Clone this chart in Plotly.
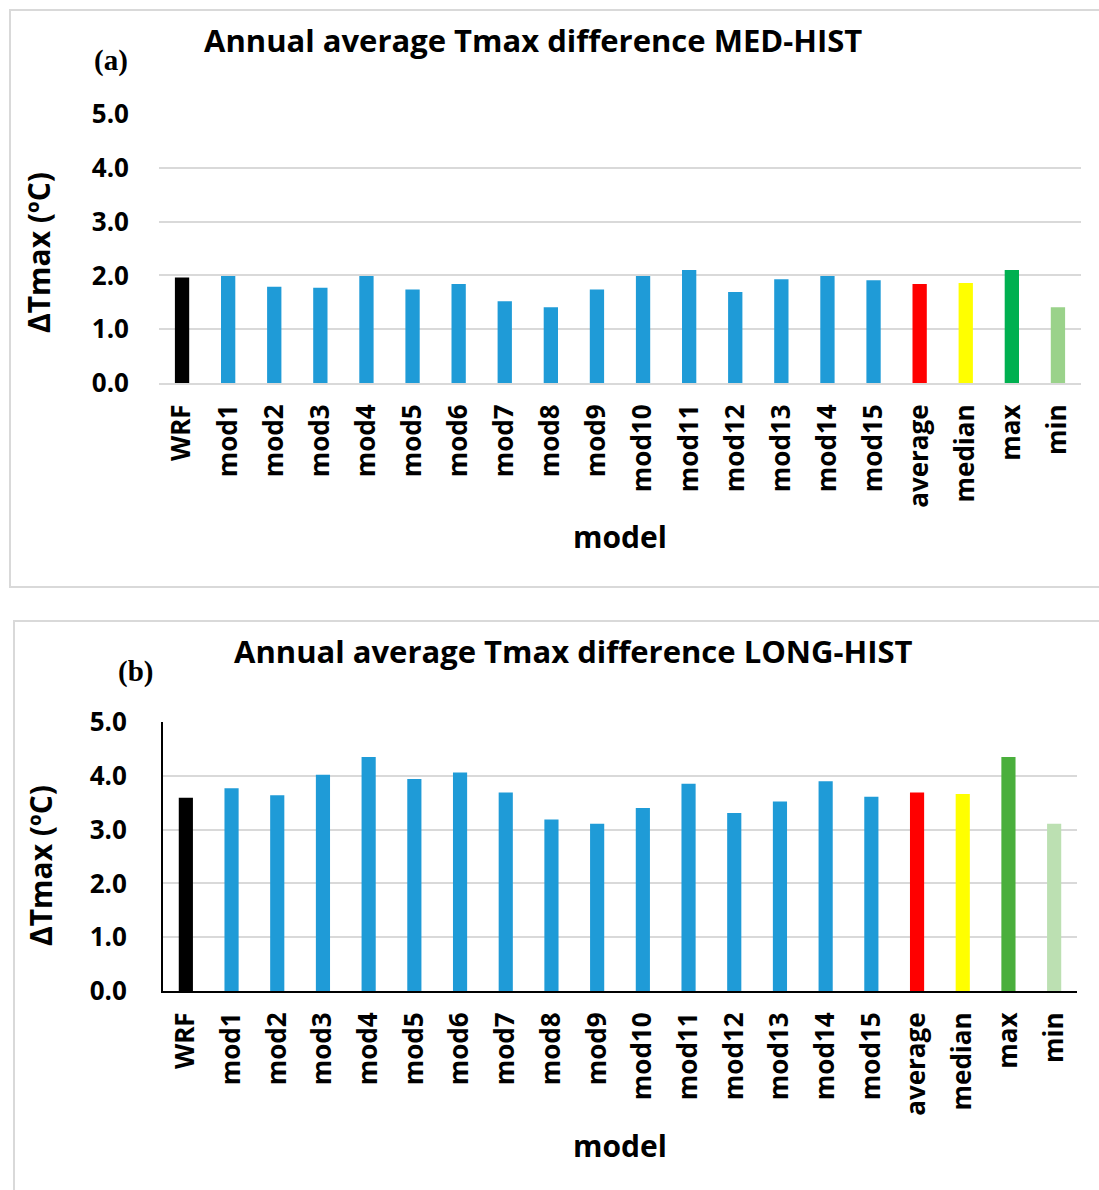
import plotly.graph_objects as go

W, H = 1099, 1190

categories = ["WRF", "mod1", "mod2", "mod3", "mod4", "mod5", "mod6", "mod7", "mod8", "mod9",
              "mod10", "mod11", "mod12", "mod13", "mod14", "mod15", "average", "median", "max", "min"]

med_hist = [1.96, 1.99, 1.79, 1.77, 1.99, 1.74, 1.84, 1.52, 1.41, 1.74,
            1.99, 2.10, 1.69, 1.93, 1.99, 1.91, 1.84, 1.86, 2.10, 1.41]

long_hist = [3.59, 3.77, 3.64, 4.02, 4.35, 3.94, 4.06, 3.69, 3.19, 3.11,
             3.40, 3.85, 3.31, 3.52, 3.90, 3.61, 3.69, 3.66, 4.35, 3.11]

y_ticks = [0, 1, 2, 3, 4, 5]
y_tick_labels = ["0.0", "1.0", "2.0", "3.0", "4.0", "5.0"]

BLUE = "#1F9BD7"
colors_a = ["#000000"] + [BLUE] * 15 + ["#FF0000", "#FFFF00", "#00B050", "#9AD28A"]
colors_b = ["#000000"] + [BLUE] * 15 + ["#FF0000", "#FFFF00", "#4AAF3C", "#BCE0B2"]

FONT = "'Open Sans', Lato, sans-serif"


def px(x):
    return x / W


def py(y):
    return 1 - y / H


fig = go.Figure()
fig.add_trace(go.Bar(x=categories, y=med_hist, marker=dict(color=colors_a, line=dict(width=0)),
                     xaxis="x", yaxis="y", showlegend=False))
fig.add_trace(go.Bar(x=categories, y=long_hist, marker=dict(color=colors_b, line=dict(width=0)),
                     xaxis="x2", yaxis="y2", showlegend=False))

tickfont = dict(family=FONT, size=26, color="#000000", weight="bold")

common_x = dict(type="category", tickangle=-90, tickfont=tickfont, showgrid=False,
                ticks="", ticklabelstandoff=9, fixedrange=True, automargin=False)
common_y = dict(range=[0, 5], tickvals=y_ticks, ticktext=y_tick_labels, tickfont=tickfont,
                showgrid=True, gridcolor="#D9D9D9", gridwidth=2, ticks="", ticklabelstandoff=29,
                zeroline=False, fixedrange=True, automargin=False)

fig.update_layout(
    width=W, height=H,
    margin=dict(l=0, r=0, t=0, b=0, pad=0, autoexpand=False),
    showlegend=False,
    paper_bgcolor="white", plot_bgcolor="white",
    bargap=0.69,
    xaxis=dict(domain=[px(159), px(1081)], anchor="y", showline=True, linecolor="#D9D9D9",
               linewidth=2, **common_x),
    yaxis=dict(domain=[py(383), py(114)], anchor="x", showline=False, **common_y),
    xaxis2=dict(domain=[px(163), px(1077)], anchor="y2", showline=True, linecolor="#000000",
                linewidth=2, **common_x),
    yaxis2=dict(domain=[py(991), py(722)], anchor="x2", showline=True, linecolor="#000000",
                linewidth=2, **common_y),
)

# panel borders
fig.add_shape(type="rect", xref="paper", yref="paper", x0=px(10), x1=px(1110), y0=py(587), y1=py(10),
              line=dict(color="#D9D9D9", width=2), fillcolor="rgba(0,0,0,0)", layer="below")
fig.add_shape(type="rect", xref="paper", yref="paper", x0=px(14), x1=px(1110), y0=py(1210), y1=py(621),
              line=dict(color="#D9D9D9", width=2), fillcolor="rgba(0,0,0,0)", layer="below")

titlefont = dict(family=FONT, size=31, color="#000000", weight="bold")
axfont = dict(family=FONT, size=30, color="#000000", weight="bold")
labfont = dict(family="'Liberation Serif', 'DejaVu Serif', serif", size=29, color="#000000", weight="bold")


def ann(text, x, y, font, angle=0):
    fig.add_annotation(text=text, x=px(x), y=py(y), xref="paper", yref="paper",
                       xanchor="center", yanchor="middle", showarrow=False, font=font,
                       textangle=angle)


ann("Annual average Tmax difference MED-HIST", 533, 40, titlefont)
ann("Annual average Tmax difference LONG-HIST", 573, 651, titlefont)
ann("(a)", 111, 60, labfont)
ann("(b)", 135, 671, labfont)
ann("ΔTmax (ºC)", 38, 253, axfont, -90)
ann("ΔTmax (ºC)", 40, 866, axfont, -90)
ann("model", 620, 537, axfont)
ann("model", 620, 1145, axfont)

fig.write_html("out.html")
